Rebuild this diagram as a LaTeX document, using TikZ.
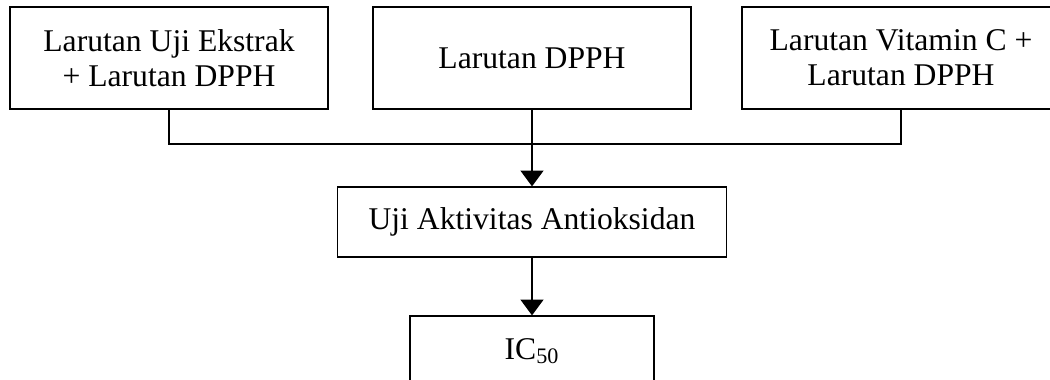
\documentclass[tikz,border=0pt]{standalone}
\usepackage{fontspec}
\setmainfont{Liberation Serif}
\usepackage{tikz}
\usetikzlibrary{arrows.meta}

\begin{document}
\begin{tikzpicture}[x=0.02cm, y=-0.02cm,
  box/.style={draw, line width=0.7pt, align=center, inner sep=2pt,
    font=\fontsize{18}{20}\selectfont},
  line/.style={line width=0.8pt},
  arrow/.style={line width=1.1pt, -{Triangle[length=9pt,width=13pt]}}]
\clip (0,0) rectangle (1050,379);
\fill[white] (0,0) rectangle (1050,379);
\foreach \name/\x/\txt in {ekstrak/169/{Larutan Uji Ekstrak\\+ Larutan DPPH}, dpph/532/{Larutan DPPH}, vitc/901/{Larutan Vitamin C +\\Larutan DPPH}}{
\node[box, minimum width=6.36cm, minimum height=2.04cm] (\name) at (\x,58) {\txt};
}
\coordinate (join) at (532,144);
\node[box, minimum width=7.78cm, minimum height=1.4cm] (uji) at (532,222) {Uji Aktivitas Antioksidan};
\node[box, minimum width=4.88cm, minimum height=1.4cm] (ic) at (532,351) {IC\textsubscript{50}};
\draw[line] (ekstrak.south) |- (join) -| (vitc.south);
\draw[arrow] (dpph.south) -- (uji.north);
\draw[arrow] (uji.south) -- (ic.north);
\end{tikzpicture}
\end{document}
